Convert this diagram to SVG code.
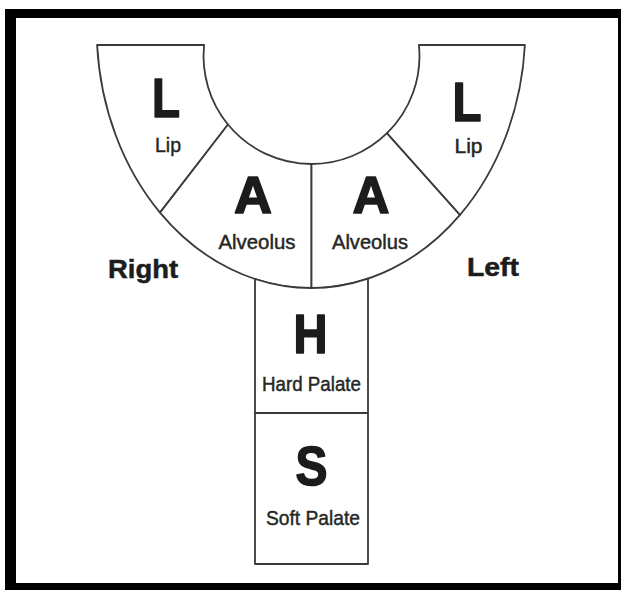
<svg xmlns="http://www.w3.org/2000/svg" width="623" height="590" viewBox="0 0 623 590">
  <style>
    .region { fill: #ffffff; stroke: #3a3a3a; stroke-width: 1.8; stroke-linejoin: round; }
    .big { font-family: "Liberation Sans", Arial, sans-serif; font-weight: bold; fill: #1c1c1c; stroke: #1c1c1c; stroke-width: 1.6; stroke-linejoin: round; text-anchor: middle; }
    .small { font-family: "Liberation Sans", Arial, sans-serif; font-weight: normal; fill: #262626; stroke: #262626; stroke-width: 0.45; text-anchor: middle; font-size: 20.5px; }
    .side { font-family: "Liberation Sans", Arial, sans-serif; font-weight: bold; fill: #1c1c1c; stroke: #1c1c1c; stroke-width: 0.5; text-anchor: middle; font-size: 26px; }
  </style>
  <rect x="0" y="0" width="623" height="590" fill="#ffffff"/>
  <rect x="5" y="9" width="616" height="581" fill="#000000"/>
  <rect x="16" y="18" width="602" height="565" fill="#ffffff"/>

  <g id="lip-right-side">
    <path class="region" d="M 97.1 45 L 204.1 45 A 108 108 0 0 0 228 124.5 L 160 212.6 A 214.4 260 0 0 1 97.1 45 Z"/>
    <text class="big" x="166" y="117" font-size="55" textLength="28" lengthAdjust="spacingAndGlyphs">L</text>
    <text class="small" x="168" y="152" textLength="26" lengthAdjust="spacingAndGlyphs">Lip</text>
  </g>
  <g id="alveolus-right-side">
    <path class="region" d="M 228 124.5 A 108 108 0 0 0 311.5 164 L 311.5 288 A 214.4 260 0 0 1 160 212.6 Z"/>
    <text class="big" x="253" y="213" font-size="51" textLength="38" lengthAdjust="spacingAndGlyphs">A</text>
    <text class="small" x="257" y="249" textLength="77" lengthAdjust="spacingAndGlyphs">Alveolus</text>
  </g>
  <g id="alveolus-left-side">
    <path class="region" d="M 311.5 164 A 108 108 0 0 0 387 133.2 L 460 214.9 A 214.4 260 0 0 1 311.5 288 Z"/>
    <text class="big" x="371" y="213" font-size="51" textLength="37" lengthAdjust="spacingAndGlyphs">A</text>
    <text class="small" x="370" y="249" textLength="76" lengthAdjust="spacingAndGlyphs">Alveolus</text>
  </g>
  <g id="lip-left-side">
    <path class="region" d="M 387 133.2 A 108 108 0 0 0 418.9 45 L 524.9 45 A 214.4 260 0 0 1 460 214.9 Z"/>
    <text class="big" x="467" y="121" font-size="55" textLength="29" lengthAdjust="spacingAndGlyphs">L</text>
    <text class="small" x="468.5" y="153" textLength="28" lengthAdjust="spacingAndGlyphs">Lip</text>
  </g>
  <g id="hard-palate">
    <path class="region" d="M 255 279 A 214.4 260 0 0 0 368 278.6 L 368 413 L 255 413 Z"/>
    <text class="big" x="310.5" y="353" font-size="55" textLength="34" lengthAdjust="spacingAndGlyphs">H</text>
    <text class="small" x="311.5" y="391" font-size="21" textLength="99" lengthAdjust="spacingAndGlyphs">Hard Palate</text>
  </g>
  <g id="soft-palate">
    <rect class="region" x="255" y="413" width="113" height="151"/>
    <text class="big" x="311.5" y="485" font-size="55" textLength="32" lengthAdjust="spacingAndGlyphs">S</text>
    <text class="small" x="313" y="525" font-size="21" textLength="94" lengthAdjust="spacingAndGlyphs">Soft Palate</text>
  </g>
  <g id="side-labels">
    <text class="side" x="143" y="278" textLength="70" lengthAdjust="spacingAndGlyphs">Right</text>
    <text class="side" x="493" y="276" textLength="52" lengthAdjust="spacingAndGlyphs">Left</text>
  </g>
  <g id="connectors"></g>
</svg>
